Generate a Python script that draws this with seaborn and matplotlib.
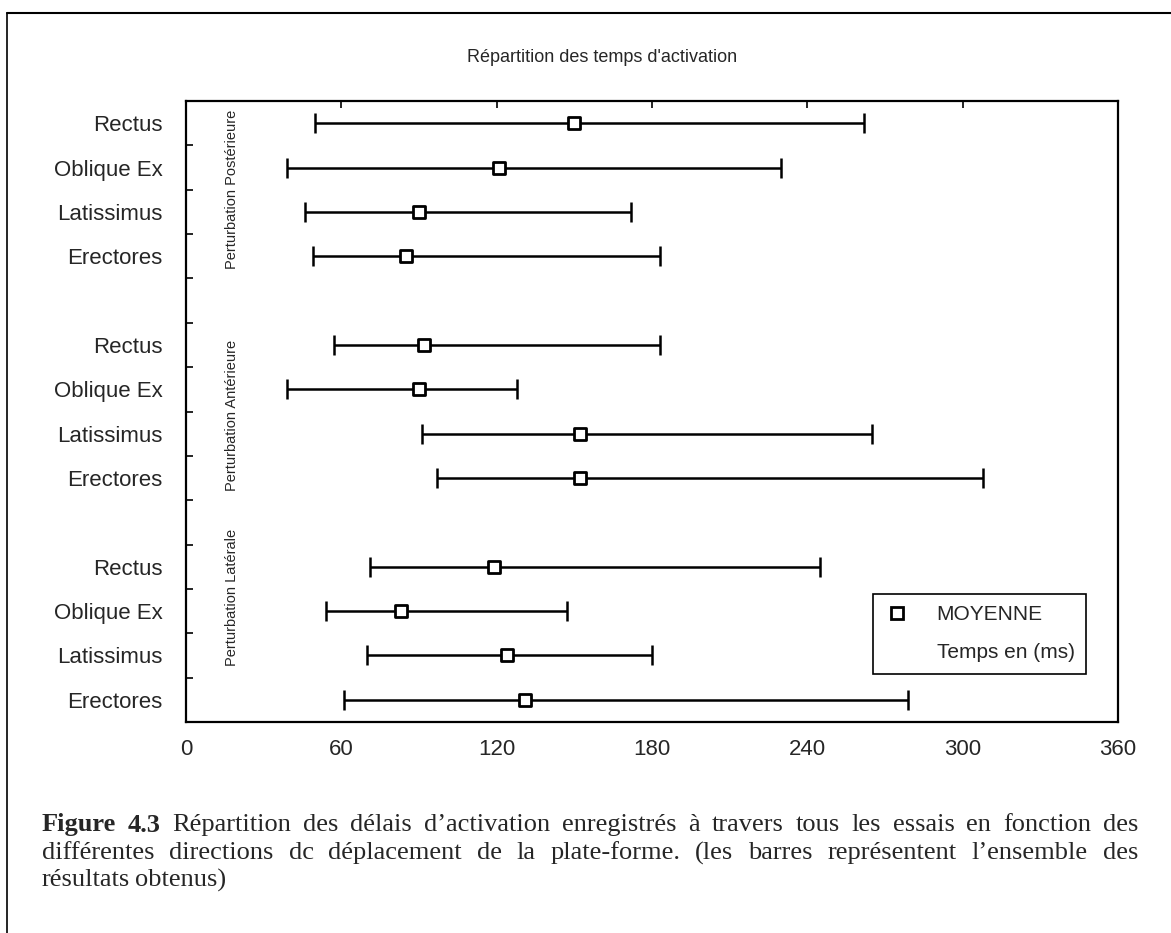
import matplotlib
matplotlib.use("Agg")
import numpy as np
import pandas as pd
import matplotlib.pyplot as plt
import seaborn as sns
from matplotlib import font_manager
from matplotlib.lines import Line2D
from matplotlib.ticker import FixedLocator

# data (ms)
groups = ["Perturbation Postérieure", "Perturbation Antérieure", "Perturbation Latérale"]
muscles = ["Rectus", "Oblique Ex", "Latissimus", "Erectores"]

mean_post = [150, 121, 90, 85]
min_post = [50, 39, 46, 49]
max_post = [262, 230, 172, 183]

mean_ant = [92, 90, 152, 152]
min_ant = [57, 39, 91, 97]
max_ant = [183, 128, 265, 308]

mean_lat = [119, 83, 124, 131]
min_lat = [71, 54, 70, 61]
max_lat = [245, 147, 180, 279]

x_ticks = [0, 60, 120, 180, 240, 300, 360]

title = "Répartition des temps d'activation"
caption = [
    "Figure 4.3 Répartition des délais d’activation enregistrés à travers tous les essais en fonction des",
    "différentes directions dc déplacement de la plate-forme. (les barres représentent l’ensemble des",
    "résultats obtenus)",
]

sns.set_style("white")
installed = {f.name for f in font_manager.fontManager.ttflist}
sans = "Liberation Sans Narrow" if "Liberation Sans Narrow" in installed else "Liberation Sans"
plt.rcParams["font.family"] = [sans, "DejaVu Sans"]

rows = []
for g, (mn, lo, hi) in enumerate([(mean_post, min_post, max_post),
                                   (mean_ant, min_ant, max_ant),
                                   (mean_lat, min_lat, max_lat)]):
    for i, m in enumerate(muscles):
        rows.append({"group": groups[g], "muscle": m, "pos": g * 5 + i,
                     "mean": mn[i], "lo": lo[i], "hi": hi[i]})
df = pd.DataFrame(rows)

W, H = 1171, 933
fig = plt.figure(figsize=(W / 100, H / 100), dpi=100)
ax = fig.add_axes([186 / W, 1 - 722 / H, 932 / W, 621 / H])

ax.errorbar(df["mean"], df["pos"], xerr=[df["mean"] - df["lo"], df["hi"] - df["mean"]],
            fmt="none", ecolor="black", elinewidth=1.8, capsize=7, capthick=1.8, zorder=2)
sns.scatterplot(data=df, x="mean", y="pos", marker="s", s=72, color="white",
                edgecolor="black", linewidth=2, zorder=3, ax=ax, legend=False)

ax.set_xlim(0, 360)
ax.set_ylim(13.5, -0.5)
ax.set_xlabel("")
ax.set_ylabel("")

ax.set_xticks(x_ticks)
ax.set_xticklabels([str(t) for t in x_ticks], fontsize=16)
ax.tick_params(axis="x", direction="in", top=True, length=5, width=1.2, pad=12, color="black")

ax.set_yticks(df["pos"])
ax.set_yticklabels(df["muscle"], fontsize=16)
ax.tick_params(axis="y", which="major", length=0, pad=17)
ax.yaxis.set_minor_locator(FixedLocator(np.arange(-0.5, 14, 1.0)))
ax.tick_params(axis="y", which="minor", direction="in", left=True, length=5, width=1.2, color="black")

for s in ax.spines.values():
    s.set_color("black")
    s.set_linewidth(1.6)

# group labels inside the axes
for label, yc in zip(groups, [1.5, 6.6, 10.7]):
    ax.text(17.8, yc, label, rotation=90, ha="center", va="center", fontsize=10.5)

handles = [Line2D([], [], marker="s", ls="none", mfc="white", mec="black", mew=2, ms=8),
           Line2D([], [], ls="none")]
leg = ax.legend(handles, ["MOYENNE", "Temps en (ms)"], loc="upper left",
                bbox_to_anchor=(873 / W, 1 - 594 / H), bbox_transform=fig.transFigure,
                borderaxespad=0, frameon=True, fancybox=False, framealpha=1,
                edgecolor="black", fontsize=15, handlelength=1.2, handletextpad=1.3,
                borderpad=0.55, labelspacing=0.9)
leg.get_frame().set_linewidth(1.2)

fig.text(602 / W, 1 - 57 / H, title, ha="center", va="center", fontsize=13)

# scanned page frame (top and left)
fig.add_artist(Line2D([7 / W, 7 / W], [0, 1 - 13 / H], color="black", lw=1.2))
fig.add_artist(Line2D([7 / W, 1], [1 - 13 / H, 1 - 13 / H], color="black", lw=1.5))

# justified caption
renderer = fig.canvas.get_renderer()
left, right = 42, 1138
for n, (line, y) in enumerate(zip(caption, [825, 853, 880])):
    words = line.split(" ")
    texts = []
    for k, w in enumerate(words):
        bold = n == 0 and k < 2
        texts.append(fig.text(0, 1 - y / H, w, fontsize=19, family="Liberation Serif",
                              weight="bold" if bold else "normal", va="center", ha="left"))
    widths = [t.get_window_extent(renderer).width for t in texts]
    if n < len(caption) - 1:
        gap = (right - left - sum(widths)) / (len(words) - 1)
    else:
        gap = 5
    x = left
    for t, w in zip(texts, widths):
        t.set_x(x / W)
        x += w + gap

fig.savefig("out.png", dpi=100, facecolor="white")
